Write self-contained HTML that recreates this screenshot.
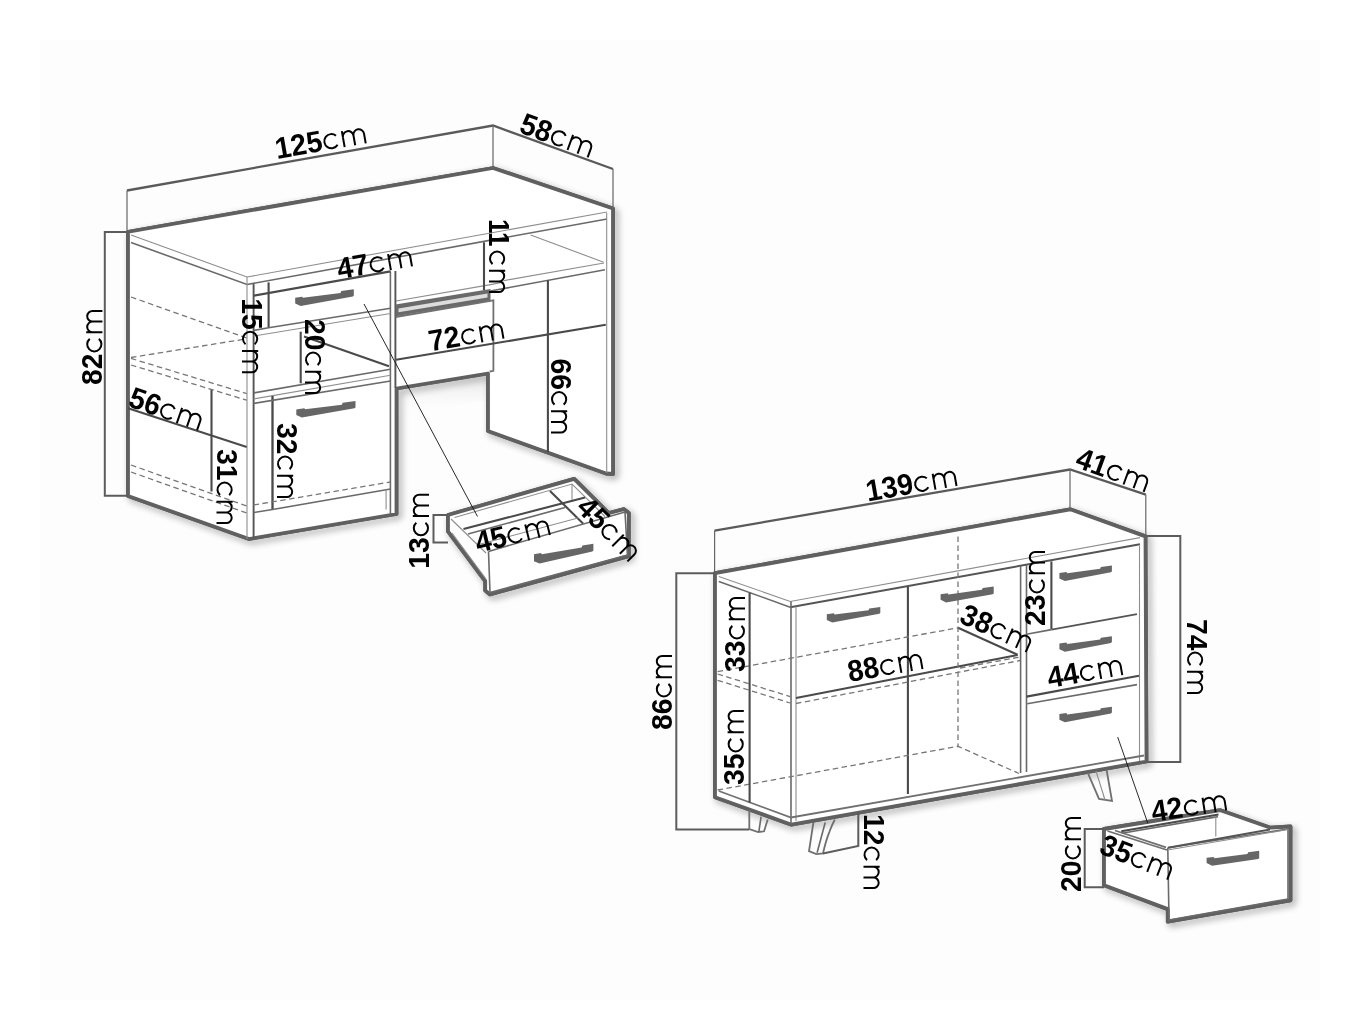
<!DOCTYPE html>
<html><head><meta charset="utf-8"><title>Dimensions</title>
<style>
html,body{margin:0;padding:0;background:#fff;}
body{width:1358px;height:1019px;overflow:hidden;font-family:"Liberation Sans",sans-serif;}
svg{display:block;position:absolute;left:0;top:0}
polyline,polygon,path{fill:none;stroke-linejoin:miter;stroke-linecap:butt}
.T{stroke:#606060;stroke-width:3.8;fill:none;stroke-linejoin:round}
.W{fill:#fff;stroke:none}
.WT{fill:#fff;stroke:#606060;stroke-width:3.8;stroke-linejoin:round}
.M{stroke:#4a4a4a;stroke-width:2.1}
.D{stroke:#5a5a5a;stroke-width:2.3}
.L{stroke:#8e8e8e;stroke-width:1.1}
.L2{stroke:#6a6a6a;stroke-width:1.6}
.L3{stroke:#707070;stroke-width:1.8}
.M2{stroke:#555;stroke-width:1.9}
.DS{stroke:#777;stroke-width:1.3;stroke-dasharray:5.5 3.5}
.D2{stroke:#666;stroke-width:1.2}
.DB{stroke:#5c5c5c;stroke-width:2.0}
.K{stroke:#111;stroke-width:0.9}
.H{fill:#666;stroke:none}
.RAIL{fill:#6a6a6a;stroke:none}
.RAILIN{fill:#ddd;stroke:none}
.G1{fill:url(#g1);stroke:none}
text{font-family:"Liberation Sans",sans-serif;fill:#000}
.b{font-weight:bold}
.r{font-weight:normal;stroke:#fff;stroke-width:0.55}
</style></head><body>
<svg width="1358" height="1019" viewBox="0 0 1358 1019">
<defs>
<g id="cm" fill="none" stroke="#000" stroke-width="2" stroke-linecap="butt"><path d="M13.44,-12.66 A7.1,7.1 0 1 0 13.44,-3.54"/><path d="M20.0,0 V-16.2 M20.0,-9.85 A5.35,5.35 0 0 1 30.70,-9.85 V0 M30.70,-9.85 A5.35,5.35 0 0 1 41.40,-9.85 V0"/></g>
<filter id="sh" x="-10%" y="-10%" width="130%" height="130%">
<feGaussianBlur in="SourceAlpha" stdDeviation="3.5" result="b"/>
<feOffset in="b" dx="3" dy="3" result="o"/>
<feComponentTransfer in="o" result="s"><feFuncA type="linear" slope="0.42"/></feComponentTransfer>
<feMerge><feMergeNode in="s"/><feMergeNode in="SourceGraphic"/></feMerge>
</filter>
<linearGradient id="g1" x1="0" y1="0" x2="0" y2="1"><stop offset="0" stop-color="#999" stop-opacity="0.3"/><stop offset="1" stop-color="#fff" stop-opacity="0"/></linearGradient>
</defs>
<rect x="0" y="0" width="1358" height="1019" fill="#fff"/>
<rect x="40" y="40" width="1280" height="960" fill="#fdfdfd"/>
<g id="desk">
<g class="T" filter="url(#sh)">
<polyline class="T" points="127.0,232.0 493.0,168.0 613.0,208.5 613.0,474.0 606.0,473.5 488.0,431.0 488.0,373.5 396.5,388.5 396.5,514.0 249.0,539.0 128.0,496.0 128.0,232.0"/>
</g>
<polygon class="W" points="128.0,232.0 493.0,168.0 613.0,208.5 613.0,474.0 606.0,473.5 488.0,431.0 488.0,373.5 396.5,388.5 396.5,514.0 249.0,539.0 128.0,496.0"/>
<polygon class="G1" points="397.0,389.0 488.0,374.0 488.0,400.0 397.0,415.0"/>
<polyline class="T" points="127.0,232.0 493.0,168.0 613.0,208.5 613.0,474.0 606.0,473.5 488.0,431.0 488.0,373.5 396.5,388.5 396.5,514.0 249.0,539.0 128.0,496.0 128.0,231.0"/>
<polyline class="D" points="127.0,190.5 493.0,125.5 613.0,169.0"/>
<polyline class="D2" points="127.0,232.0 127.0,190.5"/>
<polyline class="D2" points="613.0,169.0 613.0,208.0"/>
<polyline class="D2" points="493.0,125.5 493.0,168.0"/>
<polyline class="DB" points="127.0,232.0 104.8,232.0 104.8,495.7 128.0,495.7"/>
<polyline class="L" points="131.0,235.0 247.0,277.0 607.0,212.0"/>
<polyline class="L2" points="131.0,242.5 247.0,284.5 607.0,219.0"/>
<polyline class="L" points="247.0,277.0 247.0,539.0"/>
<polyline class="M2" points="253.6,284.0 253.6,538.0"/>
<polyline class="L" points="606.7,213.0 606.7,473.0"/>
<polyline class="L" points="530.7,235.0 603.6,262.2"/>
<polyline class="L" points="504.0,280.6 604.0,263.0"/>
<polyline class="L2" points="490.5,291.0 605.0,269.8"/>
<polyline class="L" points="396.0,301.0 490.5,284.6 504.0,282.0"/>
<polyline class="L2" points="390.4,271.5 390.4,514.0"/>
<polyline class="M2" points="395.4,271.0 395.4,388.0"/>
<polyline class="M" points="253.6,295.7 390.5,271.4"/>
<polyline class="M" points="268.6,282.4 268.6,328.0"/>
<polyline class="L2" points="253.6,330.5 268.6,327.8 390.5,308.2"/>
<polyline class="L" points="253.6,336.0 390.5,313.5"/>
<polyline class="M" points="300.7,331.7 300.7,383.3"/>
<polyline class="M" points="304.0,336.5 389.0,366.3"/>
<polyline class="L2" points="253.6,392.9 390.5,369.3"/>
<polyline class="L" points="253.6,399.0 390.5,375.2"/>
<polyline class="L2" points="272.5,396.0 272.5,509.0"/>
<polyline class="M" points="272.5,396.0 272.5,509.0"/>
<polyline class="L2" points="253.6,403.5 390.5,381.0"/>
<polyline class="DS" points="253.6,505.0 390.5,482.0"/>
<polyline class="L2" points="253.6,512.5 272.5,509.5 390.5,489.0"/>
<polyline class="L" points="386.1,489.7 386.1,509.6"/>
<polygon class="H" points="295.2,297.8 302.2,296.8 303.0,297.8 340.5,293.1 341.3,291.1 353.8,289.3 353.8,295.7 352.8,296.5 300.7,305.9 295.2,303.4"/>
<polygon class="H" points="296.3,409.5 304.3,408.3 305.1,409.3 341.9,404.8 342.7,402.8 355.5,400.9 355.5,407.5 354.5,408.3 301.8,417.6 296.3,415.1"/>
<polyline class="M" points="128.0,408.2 246.7,447.0"/>
<polyline class="M" points="211.5,389.0 211.5,491.5"/>
<polyline class="DS" points="131.0,297.0 246.7,338.0"/>
<polyline class="DS" points="131.0,357.5 246.7,338.8"/>
<polyline class="DS" points="131.0,358.4 246.7,393.6"/>
<polyline class="DS" points="131.0,365.0 246.7,400.2"/>
<polyline class="DS" points="131.0,465.0 246.7,506.0"/>
<polyline class="DS" points="131.0,472.0 246.7,513.0"/>
<polygon class="RAIL" points="395.5,304.5 490.5,289.0 490.5,300.8 395.5,316.3"/>
<polygon class="RAILIN" points="398.5,308.4 487.5,293.6 487.5,297.4 398.5,312.2"/>
<polyline class="L3" points="395.5,317.0 493.4,300.3 493.4,370.8 489.7,371.5"/>
<polyline class="M" points="396.0,359.7 605.8,324.8"/>
<polyline class="M" points="547.9,280.2 547.9,452.0"/>
<polyline class="M" points="484.0,242.3 484.0,290.0"/>
</g>
<g id="ddrawer">
<g filter="url(#sh)">
<polygon class="T" points="448.0,515.0 574.2,478.8 608.7,513.1 624.0,509.2 628.8,513.0 628.8,556.2 490.0,594.4 485.2,590.6 485.2,581.0 448.0,531.3"/>
</g>
<polygon class="WT" points="448.0,515.0 574.2,478.8 608.7,513.1 624.0,509.2 628.8,513.0 628.8,556.2 490.0,594.4 485.2,590.6 485.2,581.0 448.0,531.3"/>
<polyline class="L2" points="488.5,551.4 625.0,512.0 627.5,555.0 490.0,592.5 488.5,551.4"/>
<polyline class="L" points="451.0,519.0 486.0,553.0"/>
<polyline class="L" points="452.0,533.0 486.0,579.0"/>
<polyline class="L" points="454.5,517.5 572.0,484.0 605.0,516.5"/>
<polyline class="L" points="572.0,484.0 572.0,500.0"/>
<polyline class="M" points="463.5,529.0 585.0,497.5"/>
<polyline class="M" points="550.0,491.0 583.0,523.5"/>
<polyline class="L2" points="468.0,534.0 565.0,507.5"/>
<polyline class="L" points="477.0,545.0 578.0,518.0"/>
<polyline class="DB" points="448.0,515.0 433.5,515.0 433.5,542.4 448.0,542.4"/>
<polygon class="H" points="534.0,554.2 541.0,553.0 541.8,554.2 581.6,547.4 582.4,545.6 593.4,543.7 593.4,550.6 592.4,551.4 539.5,563.5 534.0,561.2"/>
</g>
<g id="sb">
<g filter="url(#sh)">
<polygon class="T" points="715.0,573.2 1070.2,509.3 1145.5,536.4 1146.5,761.5 791.4,824.7 715.0,797.2"/>
</g>
<polygon class="WT" points="715.0,573.2 1070.2,509.3 1145.5,536.4 1146.5,761.5 791.4,824.7 715.0,797.2"/>
<polyline class="L3" points="749.3,810.0 749.3,829.1 758.2,832.0 764.1,831.3 767.7,819.5"/>
<polyline class="L2" points="761.1,816.6 758.9,831.3"/>
<path class="L3" d="M813.4,822.5 L809,851.2 L816.3,854.1 L823,853.4 Q826,840 829.6,831.3 Q832,825 834.8,819.5"/>
<polyline class="L2" points="825.2,822.5 817.1,852.7"/>
<polyline class="L3" points="1087.7,772.6 1099.0,798.9 1112.0,801.0 1106.5,769.5"/>
<polyline class="L" points="1096.0,771.0 1105.0,800.0"/>
<polyline class="D" points="714.6,530.6 1070.0,469.5 1145.8,494.6"/>
<polyline class="D2" points="714.6,573.0 714.6,530.6"/>
<polyline class="D2" points="1145.8,494.6 1145.8,536.0"/>
<polyline class="D2" points="1070.0,469.5 1070.0,509.0"/>
<polyline class="DB" points="715.0,573.2 676.3,573.2 676.3,829.5 749.0,829.5"/>
<polyline class="DB" points="1146.5,535.9 1180.3,535.9 1180.3,761.9 1146.5,761.9"/>
<polyline class="DB" points="858.3,812.2 858.3,846.0 823.0,853.4"/>
<polyline class="L" points="718.8,576.4 790.2,601.5 1140.0,537.6"/>
<polyline class="L2" points="718.8,581.4 790.2,607.2"/>
<polyline class="M2" points="790.2,607.2 1140.0,544.2"/>
<polyline class="L2" points="791.0,601.5 791.0,824.0"/>
<polyline class="L" points="796.0,606.5 796.0,821.0"/>
<polyline class="L" points="1139.5,546.0 1139.5,761.0"/>
<polyline class="L3" points="718.8,791.0 791.0,817.5 1144.0,755.5"/>
<polyline class="M" points="907.9,586.5 907.9,794.0"/>
<polyline class="M" points="796.0,698.0 1017.6,655.0"/>
<polyline class="M" points="958.0,627.8 1017.6,654.8"/>
<polyline class="DS" points="796.0,703.5 1020.0,660.5"/>
<polyline class="DS" points="958.0,536.4 958.0,746.3"/>
<polyline class="DS" points="717.6,671.6 958.0,627.8"/>
<polyline class="DS" points="717.6,674.0 790.2,696.6"/>
<polyline class="DS" points="717.6,680.3 790.2,703.0"/>
<polyline class="DS" points="717.6,790.0 958.0,746.3 1019.0,773.5"/>
<polyline class="DS" points="960.0,668.0 1020.0,657.0"/>
<polyline class="M" points="749.6,592.7 749.6,802.7"/>
<polygon class="H" points="826.8,614.2 833.8,613.3 834.6,614.6 868.5,610.2 869.3,608.6 880.3,607.1 880.3,613.0 879.3,613.8 832.3,622.5 826.8,620.0"/>
<polygon class="H" points="940.6,594.2 947.6,593.2 948.4,594.5 981.9,589.7 982.7,588.1 993.7,586.5 993.7,593.4 992.7,594.2 946.1,602.4 940.6,599.8"/>
<polygon class="H" points="1059.4,572.9 1066.4,571.9 1067.2,573.2 1100.1,568.7 1100.9,567.1 1111.9,565.5 1111.9,571.4 1110.9,572.2 1064.9,581.0 1059.4,578.5"/>
<polygon class="H" points="1059.4,643.6 1066.4,642.6 1067.2,643.9 1100.1,639.4 1100.9,637.8 1111.9,636.2 1111.9,642.1 1110.9,642.9 1064.9,651.7 1059.4,649.2"/>
<polygon class="H" points="1059.4,714.1 1066.4,713.1 1067.2,714.4 1100.1,709.9 1100.9,708.3 1111.9,706.7 1111.9,712.6 1110.9,713.4 1064.9,722.2 1059.4,719.7"/>
<polyline class="L2" points="1020.6,566.0 1020.6,773.0"/>
<polyline class="L2" points="1026.5,565.0 1026.5,772.0"/>
<polyline class="M" points="1051.4,561.4 1051.4,629.0"/>
<polyline class="L2" points="1026.5,634.2 1051.5,629.6"/>
<polyline class="M2" points="1051.5,629.6 1137.0,614.1"/>
<polyline class="M" points="1026.5,696.6 1139.0,675.8"/>
<polyline class="L2" points="1027.2,703.8 1137.0,684.6"/>
</g>
<g id="sdrawer">
<g filter="url(#sh)">
<polygon class="T" points="1104.0,829.0 1220.4,810.2 1270.5,827.7 1290.5,826.5 1290.5,900.3 1167.8,921.6 1167.8,909.1 1104.0,885.3"/>
</g>
<polygon class="WT" points="1104.0,829.0 1220.4,810.2 1270.5,827.7 1290.5,826.5 1290.5,900.3 1167.8,921.6 1167.8,909.1 1104.0,885.3"/>
<polyline class="L2" points="1167.8,847.8 1288.0,829.0 1288.0,899.0 1169.0,920.0 1167.8,847.8"/>
<polyline class="L3" points="1107.5,831.0 1167.0,850.0"/>
<polyline class="L3" points="1115.0,830.5 1166.0,847.3"/>
<polyline class="M2" points="1168.0,847.8 1270.0,829.5"/>
<polyline class="L" points="1169.0,849.8 1288.0,829.5"/>
<polyline class="L2" points="1122.0,833.2 1218.0,816.6"/>
<polyline class="L" points="1215.8,815.0 1215.8,836.6"/>
<polyline class="M" points="1121.3,831.3 1218.5,814.5"/>
<polyline class="DB" points="1104.0,829.0 1084.7,829.0 1084.7,887.3 1104.0,887.3"/>
<polygon class="H" points="1206.6,857.8 1213.6,856.9 1214.4,858.2 1247.4,853.9 1248.2,852.3 1259.2,850.8 1259.2,858.2 1258.2,859.0 1212.1,865.7 1206.6,863.0"/>
</g>
<polyline class="K" points="364.0,304.0 477.5,516.5"/>
<polyline class="K" points="1117.7,737.1 1147.8,823.2"/>
<g opacity="0.99" transform="translate(277.0,159.0) rotate(-10)"><text class="b" font-size="30" textLength="47.5" lengthAdjust="spacingAndGlyphs">125</text><use href="#cm" x="48.7" y="0"/></g>
<g opacity="0.99" transform="translate(518.0,132.0) rotate(20)"><text class="b" font-size="30" textLength="31.5" lengthAdjust="spacingAndGlyphs">58</text><use href="#cm" x="32.7" y="0"/></g>
<g opacity="0.99" transform="translate(102.4,385.0) rotate(-90)"><text class="b" font-size="30" textLength="31.5" lengthAdjust="spacingAndGlyphs">82</text><use href="#cm" x="32.7" y="0"/></g>
<g opacity="0.99" transform="translate(339.0,279.3) rotate(-10)"><text class="b" font-size="30" textLength="31.5" lengthAdjust="spacingAndGlyphs">47</text><use href="#cm" x="32.7" y="0"/></g>
<g opacity="0.99" transform="translate(489.0,219.0) rotate(90)"><text class="b" font-size="30" textLength="27.5" lengthAdjust="spacingAndGlyphs">11</text><use href="#cm" x="31.7" y="0"/></g>
<g opacity="0.99" transform="translate(242.0,298.2) rotate(90)"><text class="b" font-size="30" textLength="31.5" lengthAdjust="spacingAndGlyphs">15</text><use href="#cm" x="32.7" y="0"/></g>
<g opacity="0.99" transform="translate(305.0,319.0) rotate(90)"><text class="b" font-size="30" textLength="31.5" lengthAdjust="spacingAndGlyphs">20</text><use href="#cm" x="32.7" y="0"/></g>
<g opacity="0.99" transform="translate(430.5,351.5) rotate(-10)"><text class="b" font-size="30" textLength="31.5" lengthAdjust="spacingAndGlyphs">72</text><use href="#cm" x="32.7" y="0"/></g>
<g opacity="0.99" transform="translate(551.0,358.5) rotate(90)"><text class="b" font-size="30" textLength="31.5" lengthAdjust="spacingAndGlyphs">66</text><use href="#cm" x="32.7" y="0"/></g>
<g opacity="0.99" transform="translate(127.0,406.0) rotate(19)"><text class="b" font-size="30" textLength="31.5" lengthAdjust="spacingAndGlyphs">56</text><use href="#cm" x="32.7" y="0"/></g>
<g opacity="0.99" transform="translate(277.0,423.0) rotate(90)"><text class="b" font-size="30" textLength="31.5" lengthAdjust="spacingAndGlyphs">32</text><use href="#cm" x="32.7" y="0"/></g>
<g opacity="0.99" transform="translate(216.5,449.0) rotate(90)"><text class="b" font-size="30" textLength="31.5" lengthAdjust="spacingAndGlyphs">31</text><use href="#cm" x="32.7" y="0"/></g>
<g opacity="0.99" transform="translate(429.0,568.8) rotate(-90)"><text class="b" font-size="30" textLength="31.5" lengthAdjust="spacingAndGlyphs">13</text><use href="#cm" x="32.7" y="0"/></g>
<g opacity="0.99" transform="translate(478.0,553.0) rotate(-14)"><text class="b" font-size="30" textLength="31.5" lengthAdjust="spacingAndGlyphs">45</text><use href="#cm" x="32.7" y="0"/></g>
<g opacity="0.99" transform="translate(575.0,509.0) rotate(45)"><text class="b" font-size="30" textLength="31.5" lengthAdjust="spacingAndGlyphs">45</text><use href="#cm" x="32.7" y="0"/></g>
<g opacity="0.99" transform="translate(867.8,501.6) rotate(-10)"><text class="b" font-size="30" textLength="47.5" lengthAdjust="spacingAndGlyphs">139</text><use href="#cm" x="48.7" y="0"/></g>
<g opacity="0.99" transform="translate(1074.0,466.5) rotate(20)"><text class="b" font-size="30" textLength="31.5" lengthAdjust="spacingAndGlyphs">41</text><use href="#cm" x="32.7" y="0"/></g>
<g opacity="0.99" transform="translate(672.0,730.0) rotate(-90)"><text class="b" font-size="30" textLength="31.5" lengthAdjust="spacingAndGlyphs">86</text><use href="#cm" x="32.7" y="0"/></g>
<g opacity="0.99" transform="translate(745.0,672.0) rotate(-90)"><text class="b" font-size="30" textLength="31.5" lengthAdjust="spacingAndGlyphs">33</text><use href="#cm" x="32.7" y="0"/></g>
<g opacity="0.99" transform="translate(743.8,785.0) rotate(-90)"><text class="b" font-size="30" textLength="31.5" lengthAdjust="spacingAndGlyphs">35</text><use href="#cm" x="32.7" y="0"/></g>
<g opacity="0.99" transform="translate(849.5,682.0) rotate(-10)"><text class="b" font-size="30" textLength="31.5" lengthAdjust="spacingAndGlyphs">88</text><use href="#cm" x="32.7" y="0"/></g>
<g opacity="0.99" transform="translate(958.0,622.0) rotate(24)"><text class="b" font-size="30" textLength="31.5" lengthAdjust="spacingAndGlyphs">38</text><use href="#cm" x="32.7" y="0"/></g>
<g opacity="0.99" transform="translate(1045.0,626.0) rotate(-90)"><text class="b" font-size="30" textLength="31.5" lengthAdjust="spacingAndGlyphs">23</text><use href="#cm" x="32.7" y="0"/></g>
<g opacity="0.99" transform="translate(1049.3,688.0) rotate(-10)"><text class="b" font-size="30" textLength="31.5" lengthAdjust="spacingAndGlyphs">44</text><use href="#cm" x="32.7" y="0"/></g>
<g opacity="0.99" transform="translate(1187.0,619.0) rotate(90)"><text class="b" font-size="30" textLength="31.5" lengthAdjust="spacingAndGlyphs">74</text><use href="#cm" x="32.7" y="0"/></g>
<g opacity="0.99" transform="translate(863.5,814.0) rotate(90)"><text class="b" font-size="30" textLength="31.5" lengthAdjust="spacingAndGlyphs">12</text><use href="#cm" x="32.7" y="0"/></g>
<g opacity="0.99" transform="translate(1081.0,892.0) rotate(-90)"><text class="b" font-size="30" textLength="31.5" lengthAdjust="spacingAndGlyphs">20</text><use href="#cm" x="32.7" y="0"/></g>
<g opacity="0.99" transform="translate(1153.0,822.0) rotate(-9)"><text class="b" font-size="30" textLength="31.5" lengthAdjust="spacingAndGlyphs">42</text><use href="#cm" x="32.7" y="0"/></g>
<g opacity="0.99" transform="translate(1098.0,853.0) rotate(21)"><text class="b" font-size="30" textLength="31.5" lengthAdjust="spacingAndGlyphs">35</text><use href="#cm" x="32.7" y="0"/></g>
</svg>
</body></html>
